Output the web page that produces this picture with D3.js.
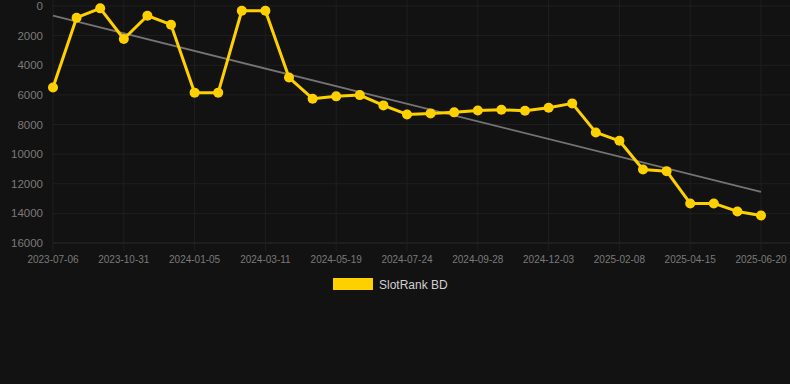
<!DOCTYPE html>
<html>
<head>
<meta charset="utf-8">
<script src="https://cdn.jsdelivr.net/npm/d3@7"></script>
<style>
  html, body { margin: 0; padding: 0; background: #121212; }
  svg { display: block; font-family: "Liberation Sans", Arial, sans-serif; }
</style>
</head>
<body>
<div id="chart"></div>
<script>
// rank per sample
var rankValues = [5500, 790, 160, 2230, 655, 1260, 5850, 5850, 320, 320,
  4830, 6260, 6100, 6015, 6710, 7320, 7250, 7180, 7050, 7005,
  7075, 6870, 6575, 8535, 9100, 11035, 11150, 13330, 13330, 13870, 14140];
// only every third sample carries a date label
var tickLabels = ["2023-07-06", "2023-10-31", "2024-01-05", "2024-03-11", "2024-05-19",
  "2024-07-24", "2024-09-28", "2024-12-03", "2025-02-08", "2025-04-15", "2025-06-20"];
var yTicks = [0, 2000, 4000, 6000, 8000, 10000, 12000, 14000, 16000];
var trendEnds = [655, 12545];
var seriesName = "SlotRank BD";

var W = 790, H = 384;
var svg = d3.select("#chart").append("svg").attr("width", W).attr("height", H);
svg.append("rect").attr("width", W).attr("height", H).attr("fill", "#121212");

var x = d3.scaleLinear().domain([0, rankValues.length - 1]).range([53, 761]);
var y = d3.scaleLinear().domain([0, 16000]).range([6, 243]);

var tickIdx = tickLabels.map((d, i) => i * 3);

// grid
svg.append("g").selectAll("line").data(yTicks).join("line")
  .attr("x1", 53).attr("x2", 790)
  .attr("y1", d => y(d)).attr("y2", d => y(d))
  .attr("stroke", d => d == 16000 ? "#2a2a2a" : "#1f1f1f").attr("stroke-width", 1);
svg.append("g").selectAll("line").data(tickIdx).join("line")
  .attr("x1", d => x(d)).attr("x2", d => x(d))
  .attr("y1", 0).attr("y2", 251)
  .attr("stroke", "#1f1f1f").attr("stroke-width", 1);

// y axis labels
svg.append("g").selectAll("text").data(yTicks).join("text")
  .attr("x", 43).attr("y", d => y(d) + 4)
  .attr("text-anchor", "end").attr("font-size", "11.5px").attr("fill", "#7a7a7a")
  .text(d => d);

// x axis labels
svg.append("g").selectAll("text").data(tickIdx).join("text")
  .attr("x", d => x(d)).attr("y", 263)
  .attr("text-anchor", "middle").attr("font-size", "10px").attr("fill", "#7a7a7a")
  .text((d, i) => tickLabels[i]);

// trend line
svg.append("line")
  .attr("x1", x(0)).attr("x2", x(rankValues.length - 1))
  .attr("y1", y(trendEnds[0])).attr("y2", y(trendEnds[1]))
  .attr("stroke", "#747474").attr("stroke-width", 1.8);

// series
var line = d3.line().x((d, i) => x(i)).y(d => y(d));
svg.append("path").datum(rankValues)
  .attr("d", line).attr("fill", "none")
  .attr("stroke", "#FFD000").attr("stroke-width", 3).attr("stroke-linejoin", "round");
svg.append("g").selectAll("circle").data(rankValues).join("circle")
  .attr("cx", (d, i) => x(i)).attr("cy", d => y(d)).attr("r", 5)
  .attr("fill", "#FFD000");

// legend
svg.append("rect").attr("x", 333).attr("y", 278).attr("width", 40).attr("height", 12)
  .attr("fill", "#FFD000");
svg.append("text").attr("x", 379).attr("y", 288.5)
  .attr("font-size", "12px").attr("fill", "#d0d0d0").text(seriesName);
</script>
</body>
</html>
